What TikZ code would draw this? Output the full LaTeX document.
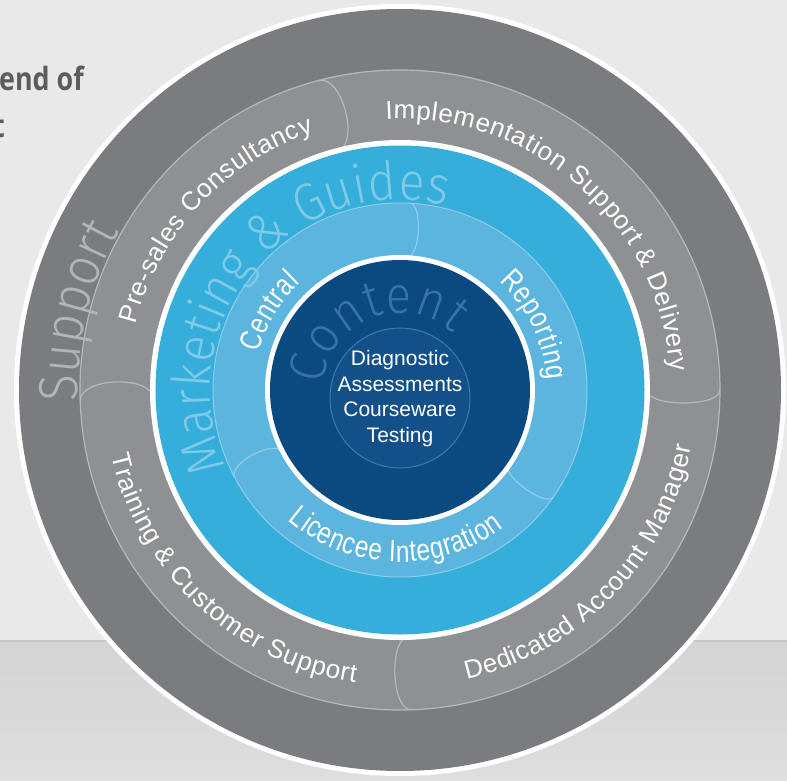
\documentclass[tikz,border=0pt]{standalone}
\usepackage{fontspec}
\usetikzlibrary{calc,decorations.text}
\newfontfamily\segfont{Liberation Sans}
\newfontfamily\infont{Liberation Sans}[FakeStretch=0.8]
\newfontfamily\thinfont{Fira Sans Light}[FakeStretch=0.9]
\newfontfamily\headfont{Open Sans}[FakeStretch=0.84]
\definecolor{bgtop}{HTML}{E9E9E9}
\definecolor{bgbotA}{HTML}{D4D4D4}
\definecolor{bgbotB}{HTML}{DEDEDE}
\definecolor{bgline}{HTML}{C6C6C6}
\definecolor{ringdark}{HTML}{7B7C7F}
\definecolor{ringmid}{HTML}{8F9093}
\definecolor{ringline}{HTML}{B7B8BA}
\definecolor{supportgray}{HTML}{B3B4B6}
\definecolor{blueouter}{HTML}{36AEDC}
\definecolor{bluetext}{HTML}{7FCAE6}
\definecolor{bluelight}{HTML}{5BB5DF}
\definecolor{blueline}{HTML}{8FCDEA}
\definecolor{navy}{HTML}{0B4A80}
\definecolor{navyin}{HTML}{134F88}
\definecolor{navyline}{HTML}{3E79B0}
\definecolor{navytext}{HTML}{3A72A6}
\definecolor{headgray}{HTML}{5C5C5C}
\newcommand{\ringtext}[5]{%
  \path[decorate,decoration={text along path,text align=fit to path,text={|#4|#5}}]
    (#2:#1) arc[start angle=#2,end angle=#3,radius=#1];}
\newcommand{\segtext}{\segfont\fontsize{26}{30}\selectfont\color{white}}
\newcommand{\intext}{\infont\fontsize{30.5}{34}\selectfont\color{white}}

\begin{document}
\begin{tikzpicture}[x=1pt,y=1pt,
    capline/.style={line width=1.2pt},
    head/.style={inner sep=0,text=headgray,font=\headfont\bfseries\fontsize{32}{40}\selectfont}]
    \useasboundingbox (-400,-390) rectangle (387,390);
    \fill[bgtop] (-400,-251) rectangle (387,390);
    \shade[top color=bgbotA,bottom color=bgbotB] (-400,-390) rectangle (387,-251);
    \draw[bgline,line width=1.5pt] (-400,-251) -- (387,-251);
    \node[head,anchor=base west] (head1) at (-401,299) {end of};
    \node[head,anchor=base east] (head2) at (-395,253) {t};

    \fill[white] (0,0) circle[radius=386];
    \fill[ringdark] (0,0) circle[radius=381];
    \filldraw[fill=ringmid,draw=ringline,line width=1.2pt] (0,0) circle[radius=320];
    \foreach \a/\b in {104.7/18,0/13,-88/15,182/18}
        \draw[ringline,capline] (\a:320) .. controls ($(\a:320)+(\a-90:4*\b/3)$) and ($(\a:247)+(\a-90:4*\b/3)$) .. (\a:247);

    \fill[white] (0,0) circle[radius=250];
    \fill[blueouter] (0,0) circle[radius=244.5];
    \filldraw[fill=bluelight,draw=blueline,line width=1pt] (0,0) circle[radius=187];
    \foreach \a/\b in {87/10,-35/9,208/12}
        \draw[blueline,capline] (\a:187) .. controls ($(\a:187)+(\a-90:4*\b/3)$) and ($(\a:133)+(\a-90:4*\b/3)$) .. (\a:133);

    \fill[white] (0,0) circle[radius=135];
    \fill[navy] (0,0) circle[radius=130];
    \filldraw[fill=navyin,draw=navyline,line width=1pt] (0,-8) circle[radius=70];

    \ringtext{322}{182}{150.7}{\thinfont\fontsize{55}{60}\selectfont\color{supportgray}}{Support}
    \ringtext{190}{204}{76}{\thinfont\fontsize{53}{58}\selectfont\color{bluetext}}{Marketing {\&} Guides}
    \ringtext{77}{176}{47}{\thinfont\fontsize{52}{58}\selectfont\color{navytext}}{Content}

    \ringtext{272}{166}{108.5}{\segtext}{Pre-sales Consultancy}
    \ringtext{271}{93}{4}{\segtext}{Implementation Support {\&} Delivery}
    \ringtext{297}{283}{349}{\segtext}{Dedicated Account Manager}
    \ringtext{296}{192.7}{261.3}{\segtext}{Training {\&} Customer Support}

    \ringtext{146}{165}{133}{\intext}{Central}
    \ringtext{147}{47.7}{4}{\intext}{Reporting}
    \ringtext{172}{229.3}{307}{\intext}{Licencee Integration}

    \node[align=center,text=white,font=\segfont\fontsize{21}{25.5}\selectfont] (core) at (0,-8.5)
        {Diagnostic\\Assessments\\Courseware\\Testing};
\end{tikzpicture}
\end{document}
